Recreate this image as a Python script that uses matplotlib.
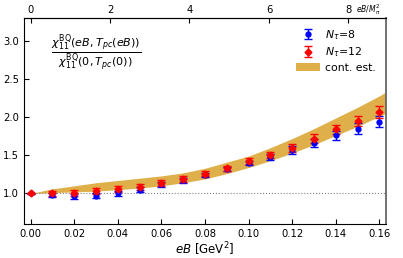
import matplotlib

matplotlib.use("Agg")
import matplotlib.pyplot as plt
import numpy as np
from matplotlib.patches import Patch

# magnetic field values (GeV^2)
eb = [0.00, 0.01, 0.02, 0.03, 0.04, 0.05, 0.06, 0.07, 0.08,
      0.09, 0.10, 0.11, 0.12, 0.13, 0.14, 0.15, 0.16]

# N_tau = 8
nt8_val = [1.00, 0.98, 0.96, 0.97, 1.00, 1.05, 1.12, 1.17, 1.24,
           1.32, 1.40, 1.48, 1.57, 1.66, 1.76, 1.85, 1.94]
nt8_err = [0.01, 0.03, 0.03, 0.03, 0.03, 0.03, 0.03, 0.03, 0.03,
           0.03, 0.03, 0.04, 0.05, 0.05, 0.06, 0.07, 0.07]

# N_tau = 12
nt12_val = [1.00, 1.00, 1.01, 1.03, 1.06, 1.09, 1.14, 1.19, 1.26,
            1.33, 1.42, 1.51, 1.60, 1.72, 1.84, 1.95, 2.07]
nt12_err = [0.01, 0.03, 0.04, 0.04, 0.04, 0.04, 0.04, 0.04, 0.03,
            0.03, 0.04, 0.04, 0.05, 0.06, 0.06, 0.07, 0.08]

# continuum estimate band
band_x = [0.00, 0.01, 0.02, 0.03, 0.04, 0.05, 0.06, 0.07, 0.08,
          0.09, 0.10, 0.11, 0.12, 0.13, 0.14, 0.15, 0.16, 0.163]
band_hi = [1.00, 1.06, 1.10, 1.14, 1.17, 1.20, 1.23, 1.27, 1.33,
           1.41, 1.49, 1.60, 1.72, 1.85, 1.99, 2.13, 2.28, 2.33]
band_lo = [1.00, 1.01, 1.02, 1.03, 1.05, 1.07, 1.10, 1.14, 1.19,
           1.26, 1.34, 1.43, 1.53, 1.64, 1.76, 1.88, 2.01, 2.05]

M_PI2 = 0.135 ** 2
BAND_COLOR = "#dfb04a"

fig = plt.figure(figsize=(4.03, 2.58), dpi=100)
ax = fig.add_axes([0.0596, 0.132, 0.898, 0.798])

ax.fill_between(band_x, band_lo, band_hi, color=BAND_COLOR, lw=0)
ax.axhline(1.0, color="gray", ls=":", lw=0.8)

ax.errorbar(eb, nt8_val, yerr=nt8_err, fmt="o", color="blue",
            ms=3.5, capsize=3, elinewidth=1, label=r"$N_\tau$=8")
ax.errorbar(eb, nt12_val, yerr=nt12_err, fmt="D", color="red",
            ms=3.5, capsize=3, elinewidth=1, label=r"$N_\tau$=12")

ax.set_xlim(-0.003, 0.163)
ax.set_ylim(0.6, 3.3)
ax.set_xticks(np.arange(0, 0.161, 0.02))
ax.set_yticks([1.0, 1.5, 2.0, 2.5, 3.0])
ax.tick_params(direction="in", labelsize=7.2, top=False, right=False)
ax.set_xlabel(r"$eB$ [GeV$^2$]", fontsize=8.5, labelpad=1)
ax.spines["right"].set_color("#666666")
ax.spines["right"].set_linewidth(1.3)

top = ax.secondary_xaxis("top", functions=(lambda x: x / M_PI2,
                                           lambda x: x * M_PI2))
top.set_xticks([0, 2, 4, 6, 8])
top.tick_params(direction="in", labelsize=7.2, pad=2)
fig.text(356 / 403, 1 - 10 / 258, r"$eB/M_\pi^2$", fontsize=5.5,
         ha="left", va="center")

ax.text(0.20, 0.835,
        r"$\frac{\chi_{11}^{\rm BQ}(eB,T_{pc}(eB))}"
        r"{\chi_{11}^{\rm BQ}(0,T_{pc}(0))}$",
        transform=ax.transAxes, fontsize=11.5, ha="center", va="center")

handles, labels = ax.get_legend_handles_labels()
handles.append(Patch(color=BAND_COLOR, lw=0))
labels.append("cont. est.")
ax.legend(handles, labels, loc="upper right", frameon=False,
          fontsize=7.8, handlelength=2.2, borderaxespad=0.5,
          labelspacing=0.35, handletextpad=0.5)

fig.savefig("out.png", dpi=100)
